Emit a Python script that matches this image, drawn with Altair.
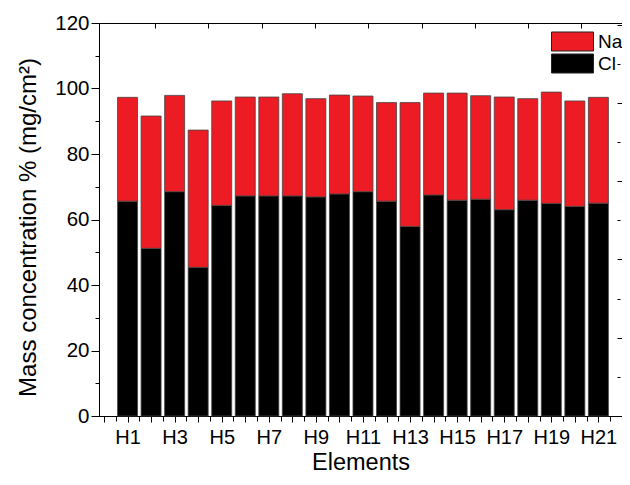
import json
import altair as alt
import pandas as pd

cats = [f"H{i}" for i in range(1, 22)]
cl = [65.6, 51.2, 68.5, 45.4, 64.3, 67.2, 67.2, 67.2, 66.9, 67.8, 68.5,
      65.6, 57.9, 67.5, 65.9, 66.2, 63.0, 65.9, 64.9, 64.0, 65.0]
na = [31.7, 40.4, 29.4, 41.9, 31.9, 30.2, 30.2, 31.2, 30.0, 30.2, 29.2,
      30.1, 37.8, 31.1, 32.7, 31.6, 34.4, 31.0, 34.0, 32.2, 32.3]
series = ["Na", "Cl"]
colors = ["#ed1c24", "#000000"]

y_ticks = list(range(0, 121, 10))
x_ticks = [i * 0.5 for i in range(0, 44)]
top_ticks = list(range(1, 10))
right_ticks = [i * 0.5 for i in range(1, 11)]

rows = []
for i, c in enumerate(cats):
    rows.append({"idx": i + 1, "cat": c, "element": "Cl", "ord": 0, "value": cl[i]})
    rows.append({"idx": i + 1, "cat": c, "element": "Na", "ord": 1, "value": na[i]})
df = pd.DataFrame(rows)

FONT = "Liberation Sans"
names = json.dumps(cats)

bars = alt.Chart(df).mark_bar(size=20, stroke="#444444", strokeWidth=0.8).encode(
    x=alt.X("idx:Q",
            scale=alt.Scale(domain=[0, 21.79], nice=False, zero=False),
            axis=alt.Axis(orient="bottom", values=x_ticks, title="Elements",
                          labelExpr=f"(datum.value % 2 === 1) ? {names}[datum.value - 1] : ''",
                          tickSize={"condition": {"test": "datum.value % 1 === 0", "value": 6}, "value": 5},
                          labelFontSize=20, titleFontSize=23.5, labelPadding=5, titlePadding=3,
                          grid=False, labelFlush=False, labelOverlap=False)),
    y=alt.Y("value:Q", stack="zero",
            scale=alt.Scale(domain=[0, 120], nice=False),
            axis=alt.Axis(orient="left", values=y_ticks,
                          title="Mass concentration % (mg/cm²)",
                          labelExpr="datum.value % 20 === 0 ? datum.label : ''",
                          tickSize={"condition": {"test": "datum.value % 20 === 0", "value": 8}, "value": 4},
                          labelFontSize=20.5, titleFontSize=24, labelPadding=2, titlePadding=14,
                          titleY=204, grid=False)),
    color=alt.Color("element:N",
                    scale=alt.Scale(domain=series, range=colors),
                    legend=alt.Legend(orient="none", legendX=463, legendY=8, title=None,
                                      symbolType="M-2.1,-0.95H2.1V0.95H-2.1Z", symbolSize=400,
                                      labelOffset=15, labelFontSize=19, labelFont=FONT,
                                      labelColor="black", rowPadding=-2.5, padding=0,
                                      symbolStrokeColor="#222222", symbolStrokeWidth=1)),
    order=alt.Order("ord:Q", sort="ascending"),
)

top_df = pd.DataFrame({"t": top_ticks})
top_layer = alt.Chart(top_df).mark_point(opacity=0).encode(
    x=alt.X("t:Q", scale=alt.Scale(domain=[-0.05, 9.76], nice=False, zero=False),
            axis=alt.Axis(orient="top", values=top_ticks, labels=False, title=None,
                          domain=False, tickSize=5, offset=-5, grid=False))
)

right_df = pd.DataFrame({"r": right_ticks})
right_layer = alt.Chart(right_df).mark_point(opacity=0).encode(
    y=alt.Y("r:Q", scale=alt.Scale(domain=[0, 5.02], nice=False, zero=False),
            axis=alt.Axis(orient="right", values=right_ticks, labels=False, title=None,
                          domain=False, offset=-5,
                          tickSize={"condition": {"test": "datum.value % 1 === 0", "value": 5}, "value": 3},
                          grid=False))
)

chart = alt.layer(bars, top_layer, right_layer).resolve_scale(
    x="independent", y="independent"
).properties(
    width=523, height=393,
    padding={"left": 91, "top": 15, "right": 0, "bottom": 61},
    autosize=alt.AutoSizeParams(type="none"),
).configure_view(
    stroke="black", strokeWidth=1
).configure_axis(
    labelFont=FONT, titleFont=FONT, labelColor="black", titleColor="black",
    tickColor="black", domainColor="black", titleFontWeight="normal",
    tickWidth=1, domainWidth=1
)

chart.save("out.html", embed_options={"renderer": "svg", "actions": False})
